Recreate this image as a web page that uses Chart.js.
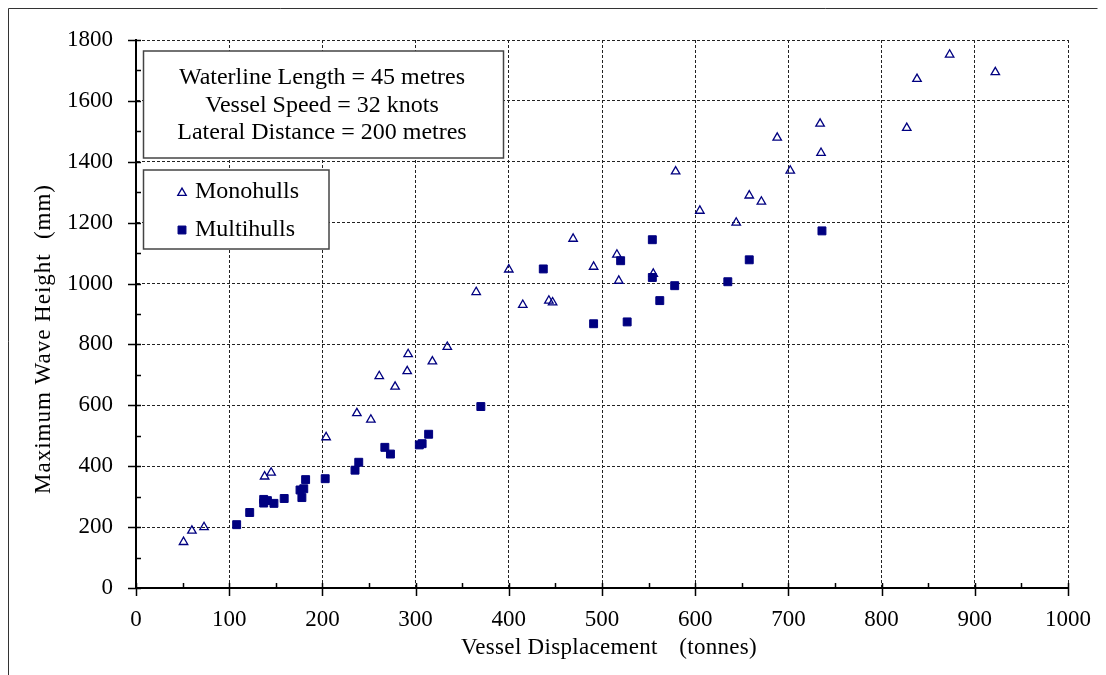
<!DOCTYPE html>
<html>
<head>
<meta charset="utf-8">
<script src="https://cdn.jsdelivr.net/npm/chart.js@4.4.1/dist/chart.umd.min.js"></script>
<style>
  html, body { margin: 0; padding: 0; background: #ffffff; }
  #wrap { position: relative; width: 1106px; height: 675px; }
</style>
</head>
<body>
<div id="wrap"><canvas id="c" width="1106" height="675"></canvas></div>
<script>
// ---- Data ----
const monoX = [51, 60, 73, 138, 145, 204, 237, 252, 261, 278, 291, 292, 318, 334, 365, 400, 415, 443, 447, 469, 491, 516, 518, 555, 579, 605, 644, 658, 671, 688, 702, 734, 735, 827, 838, 873, 922];
const monoY = [151, 188, 200, 366, 379, 495, 574, 553, 696, 661, 712, 768, 744, 792, 972, 1046, 930, 944, 938, 1147, 1055, 1095, 1009, 1032, 1368, 1239, 1200, 1289, 1269, 1479, 1371, 1525, 1429, 1511, 1672, 1752, 1694];

const multiX = [108, 122, 137, 141, 137, 148, 159, 176, 180, 178, 182, 203, 235, 239, 267, 273, 304, 307, 314, 370, 437, 491, 520, 527, 554, 554, 562, 578, 635, 658, 736];
const multiY = [208, 248, 291, 287, 279, 278, 294, 322, 326, 297, 356, 359, 387, 413, 462, 440, 470, 474, 505, 596, 1048, 868, 1075, 874, 1144, 1020, 944, 993, 1006, 1078, 1173];

const seriesNames = ["Monohulls", "Multihulls"];
const infoLines = ["Waterline Length = 45 metres", "Vessel Speed = 32 knots", "Lateral Distance = 200 metres"];
const xTitleParts = ["Vessel Displacement", "(tonnes)"];
const yTitleParts = ["Maximum Wave Height", "(mm)"];
const xMin = 0, xMax = 1000, xStep = 100;
const yMin = 0, yMax = 1800, yStep = 200;

const NAVY = "#000080";
const FONT = "'Liberation Serif', 'Times New Roman', serif";

function toPoints(xs, ys) { return xs.map((x, i) => ({ x: x, y: ys[i] })); }

const decorPlugin = {
  id: "decor",
  beforeDraw(chart) {
    const ctx = chart.ctx;
    ctx.save();
    ctx.fillStyle = "#ffffff";
    ctx.fillRect(0, 0, chart.width, chart.height);
    ctx.strokeStyle = "#333333";
    ctx.lineWidth = 1;
    ctx.beginPath();
    ctx.moveTo(8.5, 675);
    ctx.lineTo(8.5, 8.5);
    ctx.lineTo(1097.5, 8.5);
    ctx.stroke();
    ctx.restore();
  },
  afterDraw(chart) {
    const ctx = chart.ctx;
    const xs = chart.scales.x, ys = chart.scales.y;
    const area = chart.chartArea;
    ctx.save();
    // ticks (major crossing, minor inside)
    ctx.strokeStyle = "#000000";
    ctx.lineWidth = 1.5;
    ctx.beginPath();
    for (let v = yMin; v <= yMax; v += yStep / 2) {
      const p = Math.round(ys.getPixelForValue(v)) + 0.5;
      const major = (v % yStep) === 0;
      ctx.moveTo(major ? area.left - 8 : area.left, p);
      ctx.lineTo(area.left + 5, p);
    }
    for (let v = xMin; v <= xMax; v += xStep / 2) {
      const p = Math.round(xs.getPixelForValue(v)) + 0.5;
      const major = (v % xStep) === 0;
      ctx.moveTo(p, major ? area.bottom + 8 : area.bottom);
      ctx.lineTo(p, area.bottom - 5);
    }
    ctx.stroke();

    // axis titles
    ctx.fillStyle = "#000000";
    ctx.font = "23px " + FONT;
    ctx.textBaseline = "middle";
    ctx.letterSpacing = "0.3px";
    ctx.textAlign = "left";
    ctx.fillText(xTitleParts[0], 461, 648);
    ctx.textAlign = "right";
    ctx.fillText(xTitleParts[1], 757, 648);
    ctx.save();
    ctx.translate(44, 0);
    ctx.rotate(-Math.PI / 2);
    ctx.letterSpacing = "1px";
    ctx.textAlign = "left";
    ctx.fillText(yTitleParts[0], -494, 0);
    ctx.textAlign = "right";
    ctx.fillText(yTitleParts[1], -184, 0);
    ctx.restore();
    ctx.letterSpacing = "0px";

    // info box
    ctx.fillStyle = "#ffffff";
    ctx.strokeStyle = "#444444";
    ctx.lineWidth = 1.5;
    ctx.fillRect(143.5, 51, 360, 107);
    ctx.strokeRect(143.5, 51, 360, 107);
    ctx.fillStyle = "#000000";
    ctx.font = "24px " + FONT;
    ctx.textAlign = "center";
    ctx.textBaseline = "middle";
    infoLines.forEach((t, i) => ctx.fillText(t, 322, 78 + i * 27.5));

    // legend box
    ctx.fillStyle = "#ffffff";
    ctx.fillRect(143.5, 170, 185.5, 79);
    ctx.strokeRect(143.5, 170, 185.5, 79);
    const ds = chart.data.datasets;
    const rows = [192, 230];
    ds.forEach((d, i) => {
      ctx.strokeStyle = d.borderColor;
      ctx.fillStyle = d.backgroundColor;
      ctx.lineWidth = d.borderWidth;
      Chart.helpers.drawPoint(ctx, {
        pointStyle: d.pointStyle, radius: d.pointRadius, borderWidth: d.borderWidth, rotation: 0
      }, 182, rows[i] + (d.pointStyle === "triangle" ? 1 : 0));
      ctx.fillStyle = "#000000";
      ctx.textAlign = "left";
      ctx.textBaseline = "middle";
      ctx.font = "24px " + FONT;
      ctx.fillText(d.label, 195, rows[i]);
      ctx.strokeStyle = "#444444";
      ctx.lineWidth = 1.5;
    });
    ctx.restore();
  }
};

const tickFmt = (v) => String(v);

const chart = new Chart(document.getElementById("c"), {
  type: "scatter",
  data: {
    datasets: [
      {
        label: seriesNames[0],
        data: toPoints(monoX, monoY),
        pointStyle: "triangle",
        pointRadius: 4.9,
        pointHoverRadius: 4.9,
        borderColor: NAVY,
        backgroundColor: "rgba(255,255,255,0)",
        borderWidth: 1.3
      },
      {
        label: seriesNames[1],
        data: toPoints(multiX, multiY),
        pointStyle: "rect",
        pointRadius: 5.6,
        pointHoverRadius: 5.6,
        borderColor: NAVY,
        backgroundColor: NAVY,
        borderWidth: 1
      }
    ]
  },
  options: {
    responsive: false,
    animation: false,
    devicePixelRatio: 1,
    layout: { padding: { left: 0, top: 40, right: 38, bottom: 0 } },
    plugins: {
      legend: { display: false },
      tooltip: { enabled: false },
      title: { display: false }
    },
    scales: {
      x: {
        type: "linear",
        min: xMin, max: xMax,
        afterFit(scale) { scale.height = 87; scale.paddingRight = 0; scale.paddingLeft = 0; },
        ticks: { stepSize: xStep, color: "#000", padding: 18, font: { family: FONT, size: 23 }, maxRotation: 0, callback: tickFmt },
        grid: { color: "#222222", lineWidth: 1, drawTicks: false },
        border: { display: true, color: "#000000", width: 2, dash: [3, 2] },
        title: { display: false }
      },
      y: {
        type: "linear",
        min: yMin, max: yMax,
        afterFit(scale) { scale.width = 136; scale.paddingTop = 0; scale.paddingBottom = 0; },
        ticks: { stepSize: yStep, color: "#000", padding: 23, font: { family: FONT, size: 23 }, callback: tickFmt },
        grid: { color: "#222222", lineWidth: 1, drawTicks: false },
        border: { display: true, color: "#000000", width: 2, dash: [3, 2] },
        title: { display: false }
      }
    }
  },
  plugins: [decorPlugin]
});
</script>
</body>
</html>
